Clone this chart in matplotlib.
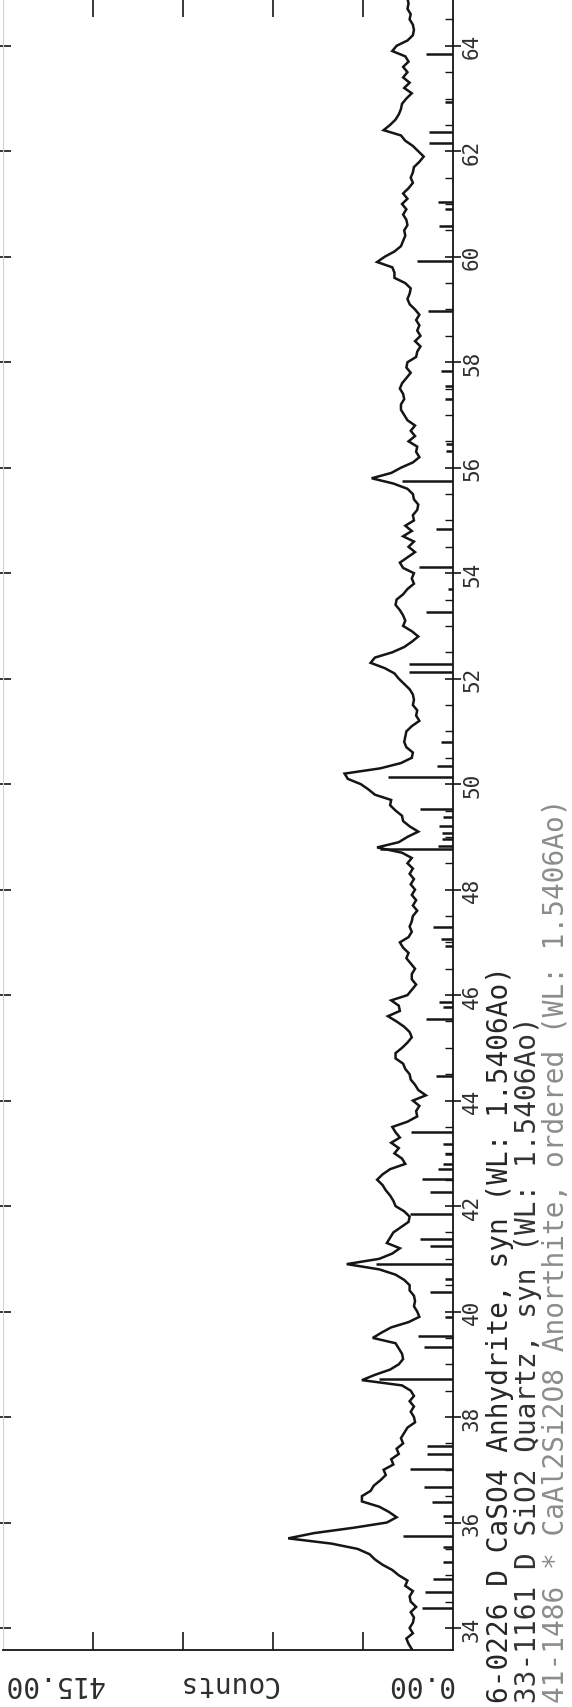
import numpy as np
import matplotlib
matplotlib.use("Agg")
import matplotlib.pyplot as plt
from matplotlib.ticker import MultipleLocator, FixedLocator
from matplotlib import transforms

# ---------------- data ----------------
SCAN_START = 33.6      # first 2-theta of the scan (deg)
SCAN_STEP = 0.1        # scan step (deg)

counts_33_38 = [38, 41, 43, 37, 40, 37, 36, 39, 34, 39, 40, 37, 44, 42,
                50, 56, 65, 72, 77, 88, 112, 152, 128, 92,
                61, 52, 59, 68, 84, 84, 76, 73, 67, 62,
                64, 55, 57, 50, 52, 46, 48, 45, 42, 35,
                36, 39, 36, 40, 36, 39, 47, 84, 72, 58]
counts_39_43 = [50, 46, 47, 50, 53, 74, 66, 57, 41, 31,
                33, 36, 35, 36, 40, 40, 45, 53, 68, 98,
                68, 56, 49, 61, 58, 55, 48, 41, 40, 45,
                53, 55, 58, 62, 65, 70, 65, 58, 44, 47,
                54, 50, 57, 49, 53, 56, 42, 33, 34, 31]
counts_44_48 = [37, 25, 32, 35, 39, 40, 44, 46, 53, 53,
                47, 42, 38, 40, 45, 52, 60, 49, 50, 57,
                42, 38, 34, 38, 38, 35, 39, 43, 41, 46,
                49, 41, 38, 40, 38, 37, 33, 37, 34, 38,
                35, 39, 36, 40, 37, 42, 38, 47, 70, 50]
counts_49_53 = [42, 32, 40, 46, 47, 53, 58, 57, 72, 78,
                85, 97, 100, 67, 48, 38, 37, 43, 45, 44,
                43, 38, 31, 34, 33, 37, 36, 37, 40, 45,
                50, 54, 63, 76, 72, 56, 45, 38, 32, 38,
                46, 44, 46, 49, 53, 52, 46, 42, 36, 38]
counts_54_58 = [36, 46, 49, 42, 35, 41, 36, 46, 38, 44,
                36, 37, 33, 32, 36, 37, 42, 55, 75, 57,
                48, 37, 31, 34, 33, 41, 35, 39, 35, 42,
                45, 48, 48, 45, 46, 49, 47, 43, 39, 43,
                42, 34, 33, 30, 35, 30, 33, 31, 34, 31]
counts_59_64 = [35, 40, 42, 40, 39, 44, 54, 54, 56, 70,
                63, 54, 48, 46, 44, 45, 42, 43, 46, 43,
                47, 42, 46, 41, 37, 39, 37, 36, 31, 27,
                32, 37, 44, 48, 64, 58, 53, 50, 48, 47,
                43, 38, 45, 40, 46, 42, 46, 41, 44, 56,
                52, 42, 37, 36, 37, 40, 39, 42, 41, 42]

# reference stick patterns (card lines): 2-theta and height in counts
stick_2theta = [34.38, 34.68, 34.93, 35.25, 35.54, 35.74, 36.12, 36.39, 36.67,
                37.01, 37.30, 37.45, 38.72, 39.33, 39.54, 39.90, 40.37, 40.62,
                40.90, 41.24, 41.38, 41.85, 42.27, 42.51, 42.70, 42.80, 42.99,
                43.18, 43.40, 44.47, 45.55, 45.78, 45.87, 46.93, 47.06, 47.29,
                48.77, 48.83, 48.96, 49.07, 49.21, 49.38, 49.53, 50.14, 50.34,
                50.80, 52.13, 52.28, 53.27, 53.70, 54.12, 54.84, 55.75, 56.32,
                56.45, 57.30, 57.55, 57.83, 58.97, 59.92, 60.58, 60.91, 61.04,
                62.16, 62.37, 62.93, 63.84]
stick_height = [29, 26, 18, 9, 9, 46, 9, 19, 27,
                40, 24, 24, 68, 27, 32, 7, 21, 7,
                71, 21, 30, 40, 21, 29, 14, 9, 7,
                9, 39, 16, 25, 9, 13, 7, 11, 18,
                67, 14, 10, 10, 13, 9, 30, 60, 15,
                11, 41, 41, 25, 5, 31, 16, 47, 6,
                6, 7, 7, 11, 23, 33, 13, 7, 14,
                22, 22, 7, 25]

count_ticks = [83, 166, 249, 332]
theta_ticks = list(range(34, 65, 2))
count_min_label = "0.00"
count_max_label = "415.00"
count_axis_label = "Counts"
legend_lines = [
    "6-0226 D CaSO4 Anhydrite, syn (WL: 1.5406Ao)",
    "33-1161 D SiO2 Quartz, syn (WL: 1.5406Ao)",
    "41-1486 * CaAl2Si2O8 Anorthite, ordered (WL: 1.5406Ao)",
]

counts = np.array(counts_33_38 + counts_39_43 + counts_44_48 +
                  counts_49_53 + counts_54_58 + counts_59_64, dtype=float)
two_theta = np.round(SCAN_START + SCAN_STEP * np.arange(counts.size), 1)

# ---------------- figure ----------------
W, H = 572, 1708
MONO = "DejaVu Sans Mono"
INK = "#151515"
TXT = "#2e2e2e"

fig = plt.figure(figsize=(W / 100, H / 100), dpi=100)
fig.patch.set_facecolor("white")

x_left, x_base, y_bot = 3, 453, 1651
ax = fig.add_axes([x_left / W, (H - y_bot) / H, (x_base - x_left) / W, y_bot / H])
ax.set_xlim(415, 0)
ax.set_ylim(33.583, 64.887)
ax.set_facecolor("white")

ax.plot(counts, two_theta, color=INK, lw=1.8, solid_joinstyle="miter")
ax.hlines(stick_2theta, 0, stick_height, color=INK, lw=1.8)

# spines
ax.spines["top"].set_visible(False)
ax.spines["left"].set_color("#d4d4d4")
ax.spines["left"].set_linewidth(0.8)
for s in ("right", "bottom"):
    ax.spines[s].set_color(INK)
    ax.spines[s].set_linewidth(1.3)

# 2-theta axis (vertical, labels on the right)
ax.yaxis.set_major_locator(FixedLocator(theta_ticks))
ax.yaxis.set_minor_locator(MultipleLocator(0.5))
ax.tick_params(axis="y", which="major", left=True, right=True,
               labelleft=False, labelright=True, direction="inout",
               length=11, width=1.2, color=INK, pad=1,
               labelsize=15, labelcolor=TXT)
ax.tick_params(axis="y", which="minor", left=False, right=True,
               direction="in", length=6, width=1.0, color=INK)
for lab in ax.get_yticklabels():
    lab.set_rotation(90)
    lab.set_va("center")
    lab.set_family(MONO)

# counts axis (horizontal)
ax.xaxis.set_major_locator(FixedLocator(count_ticks))
ax.tick_params(axis="x", which="major", bottom=True, top=True,
               labelbottom=False, labeltop=False, direction="in",
               length=13, width=1.2, color=INK)

# counts axis labels (upside down)
trans = transforms.blended_transform_factory(ax.transData, fig.transFigure)
y_lab = (H - 1684) / H
common = dict(transform=trans, rotation=180, rotation_mode="anchor",
              va="center", fontsize=20, family=MONO, color=TXT, clip_on=False)
ax.text(0, y_lab, count_min_label, ha="left", **common)
ax.text(207.5, y_lab, count_axis_label, ha="center", **common)
ax.text(415, y_lab, count_max_label, ha="right", **common)

# phase legend lines along the right margin
legend_x = [499.5, 528, 556.5]
legend_col = ["#262626", "#333333", "#8c8c8c"]
for xp, line, col in zip(legend_x, legend_lines, legend_col):
    fig.text(xp / W, 5 / H, line, rotation=90, rotation_mode="anchor",
             ha="left", va="center", fontsize=20, family=MONO, color=col)

fig.savefig("out.png", dpi=100, facecolor="white")
